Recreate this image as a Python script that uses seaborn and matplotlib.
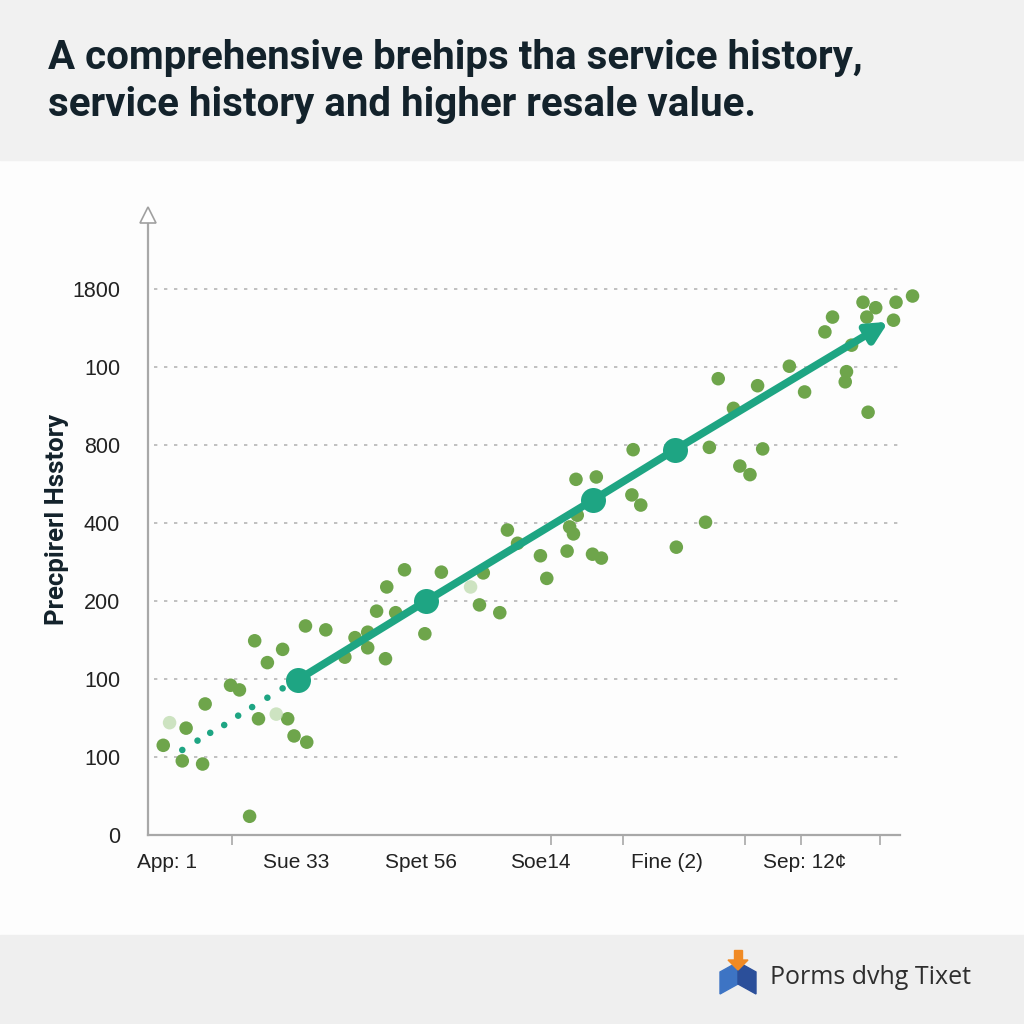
import matplotlib
matplotlib.use("Agg")
import matplotlib.pyplot as plt
from matplotlib.patches import Rectangle, Polygon
import seaborn as sns
import pandas as pd

# scattered observations (x in label units, y in tick-index units)
scatter_x = [0.12, 0.30, 0.27, 0.43, 0.45, 0.65, 0.72, 0.84, 0.94, 0.87, 1.10, 1.15,
             1.25, 0.80, 1.06, 1.24, 1.40, 1.55, 1.63, 1.73, 1.73, 1.80, 1.87, 1.88,
             1.95, 2.02, 2.18, 2.31, 2.61, 2.64, 2.77, 2.83, 2.91, 3.09, 3.14, 3.30,
             3.32, 3.35, 3.37, 3.53, 3.38, 3.50, 3.57, 3.82, 3.81, 3.88, 4.16, 4.39,
             4.42, 4.49, 4.61, 4.66, 4.74, 4.80, 4.84, 5.05, 5.17, 5.33, 5.39, 5.50,
             5.49, 5.54, 5.67, 5.63, 5.73, 5.66, 5.89, 5.87, 6.02]
scatter_y = [1.15, 1.37, 0.95, 0.91, 1.68, 1.92, 1.86, 2.49, 2.21, 1.49, 1.49, 1.27,
             1.19, 0.24, 2.38, 2.68, 2.63, 2.28, 2.53, 2.60, 2.40, 2.87, 2.26, 3.18,
             2.85, 3.40, 2.58, 3.37, 2.95, 3.36, 2.85, 3.91, 3.74, 3.58, 3.29, 3.64,
             3.95, 3.86, 4.56, 4.59, 4.10, 3.60, 3.55, 4.94, 4.36, 4.23, 3.69, 4.01,
             4.97, 5.85, 5.47, 4.73, 4.62, 5.76, 4.95, 6.01, 5.68, 6.45, 6.64, 5.94,
             5.81, 6.28, 5.42, 6.83, 6.76, 6.64, 6.83, 6.60, 6.91]
faded_x = [0.17, 1.01, 2.54]
faded_y = [1.44, 1.55, 3.18]

# trend: dotted lead-in, then solid line with milestones, then arrow
lead_x = [0.27, 0.39, 0.49, 0.60, 0.71, 0.82, 0.94, 1.06]
lead_y = [1.09, 1.21, 1.31, 1.41, 1.53, 1.64, 1.76, 1.88]
trend_x = [1.18, 2.19, 3.50, 4.15]
trend_y = [1.99, 3.00, 4.29, 4.94]
arrow_end = (5.83, 6.58)

y_ticklabels = ["0", "100", "100", "200", "400", "800", "100", "1800"]
x_labels = ["App: 1", "Sue 33", "Spet 56", "Soe14", "Fine (2)", "Sep: 12¢"]
x_label_pos = [0.15, 1.17, 2.15, 3.09, 4.09, 5.17]
x_tick_marks = [0.66, 3.17, 3.74, 4.70, 5.14, 5.76]

sns.set_theme(style="white")
plt.rcParams["font.family"] = ["Liberation Sans", "DejaVu Sans"]

fig = plt.figure(figsize=(10.24, 10.24), dpi=100)
fig.patch.set_facecolor("#fdfdfd")

# header and footer bands
fig.patches.append(Rectangle((0, 1 - 160 / 1024), 1, 160 / 1024, transform=fig.transFigure,
                             color="#f1f1f1", zorder=0))
fig.patches.append(Rectangle((0, 0), 1, 89 / 1024, transform=fig.transFigure,
                             color="#efefef", zorder=0))

title_font = dict(fontsize=29, fontweight="bold", color="#13222b", va="center",
                  family=["Roboto", "DejaVu Sans"])
fig.text(48 / 1024, 1 - 58 / 1024, "A comprehensive brehips tha service history,", **title_font)
fig.text(48 / 1024, 1 - 105 / 1024, "service history and higher resale value.", **title_font)

ax = fig.add_axes([148 / 1024, 1 - 835 / 1024, 6.2 * 127 / 1024, 8.1 * 78 / 1024])
ax.set_facecolor("none")
ax.set_xlim(0, 6.2)
ax.set_ylim(0, 8.1)

# dotted gridlines
ax.hlines(range(1, 8), 0.05, 5.92, colors="#b5b5b5", linestyles=(0, (2, 4)), lw=1.2, zorder=1)

sns.scatterplot(x=scatter_x, y=scatter_y, color="#6ea54b", s=95, edgecolor="none",
                ax=ax, zorder=3)
sns.scatterplot(x=faded_x, y=faded_y, color="#b9d8a8", s=95, edgecolor="none",
                ax=ax, zorder=3, alpha=0.7)

teal = "#1ea583"
sns.scatterplot(x=lead_x, y=lead_y, color=teal, s=22, edgecolor="none", ax=ax, zorder=4)
trend = pd.DataFrame({"x": trend_x, "y": trend_y})
sns.lineplot(data=trend, x="x", y="y", color=teal, lw=5.5, marker="o", markersize=18,
             markeredgewidth=0, ax=ax, zorder=5)
ax.annotate("", xy=arrow_end, xytext=(trend_x[-1], trend_y[-1]),
            arrowprops=dict(arrowstyle="-|>", color=teal, lw=5.5, mutation_scale=30,
                            shrinkA=0, shrinkB=0), zorder=5)

# axes styling
for side in ["top", "right"]:
    ax.spines[side].set_visible(False)
ax.spines["left"].set_bounds(0, 7.85)
ax.spines["bottom"].set_bounds(0, 5.92)
for side in ["left", "bottom"]:
    ax.spines[side].set_color("#a8a8a8")
    ax.spines[side].set_linewidth(1.6)
ax.plot([0], [7.95], marker="^", ms=12, mfc="white", mec="#a0a0a0", mew=1.2,
        clip_on=False, zorder=6)

ax.set_yticks(range(8))
ax.set_yticklabels(y_ticklabels, fontsize=15.5, color="#222222")
ax.tick_params(axis="y", length=0, pad=20)
ax.set_xticks(x_label_pos)
ax.set_xticklabels(x_labels, fontsize=15, color="#222222")
ax.set_xticks(x_tick_marks, minor=True)
ax.tick_params(axis="x", which="major", length=0, pad=13)
ax.tick_params(axis="x", which="minor", length=7, width=1.2, color="#a8a8a8",
               bottom=True)
ax.set_xlabel("")
ax.set_ylabel("Precpirerl Hsstory", fontsize=18.5, fontweight="bold", color="#13222b",
              labelpad=2, family=["Roboto", "DejaVu Sans"])

# footer logo and text
cube = [
    ([(720, 972), (738, 962), (738, 984), (720, 994)], "#3d74c4"),
    ([(738, 962), (756, 972), (756, 994), (738, 984)], "#2b4f9a"),
    ([(728, 960), (748, 960), (738, 970)], "#f08a24"),
    ([(734, 950), (742, 950), (742, 962), (734, 962)], "#f08a24"),
]
for pts, col in cube:
    fig.patches.append(Polygon([(px / 1024, 1 - py / 1024) for px, py in pts],
                               closed=True, transform=fig.transFigure, color=col, zorder=2))
fig.text(770 / 1024, 1 - 978 / 1024, "Porms dvhg Tixet", fontsize=18, color="#2e2e2e",
         va="center", family=["Open Sans", "DejaVu Sans"])

fig.savefig("out.png", dpi=100)
